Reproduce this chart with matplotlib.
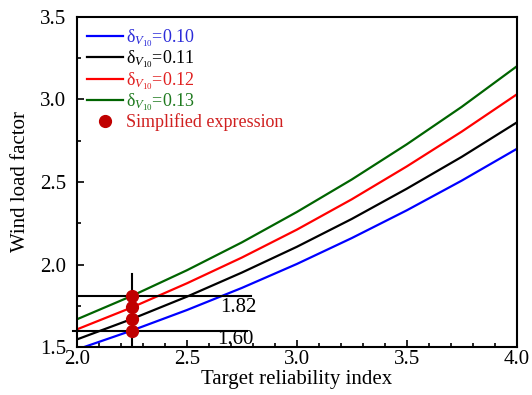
import matplotlib
matplotlib.use("Agg")
import matplotlib.pyplot as plt

plt.rcParams['font.family'] = ['Liberation Serif', 'DejaVu Serif']
plt.rcParams['mathtext.fontset'] = 'custom'
plt.rcParams['mathtext.rm'] = 'Liberation Serif'
plt.rcParams['mathtext.it'] = 'Liberation Serif:italic'

beta = [2.0, 2.25, 2.5, 2.75, 3.0, 3.25, 3.5, 3.75, 4.0]
f010 = [1.485, 1.60, 1.724, 1.858, 2.003, 2.160, 2.328, 2.508, 2.70]
f011 = [1.546, 1.67, 1.805, 1.951, 2.107, 2.276, 2.459, 2.652, 2.86]
f012 = [1.607, 1.74, 1.886, 2.042, 2.211, 2.395, 2.594, 2.805, 3.03]
f013 = [1.668, 1.81, 1.965, 2.134, 2.318, 2.515, 2.728, 2.955, 3.20]
labels = ['0.10', '0.11', '0.12', '0.13']
line_colors = ['#0000ff', '#000000', '#ff0000', '#006400']
text_colors = ['#2b2bd9', '#000000', '#e02020', '#1f7a1f']

simp_x = [2.25, 2.25, 2.25, 2.25]
simp_y = [1.60, 1.67, 1.74, 1.81]

fig = plt.figure(figsize=(5.32, 3.95), dpi=100)
ax = fig.add_axes([0.1447, 0.1215, 0.8263, 0.8355])

for f, lab, c in zip([f010, f011, f012, f013], labels, line_colors):
    ax.plot(beta, f, color=c, lw=1.6, label=r'δ$_{\mathit{V}_{\mathrm{10}}}$=' + lab)

# construction lines
ax.plot([2.0, 2.79], [1.81, 1.81], color='black', lw=1.5, zorder=3)
ax.plot([1.98, 2.775], [1.60, 1.60], color='black', lw=1.5, zorder=3, clip_on=False)
ax.plot([2.25, 2.25], [1.5, 1.94], color='black', lw=1.5, zorder=3)

ax.plot(simp_x, simp_y, 'o', color='#c00000', ms=8.5, zorder=4, label='Simplified expression')

ax.text(2.735, 1.742, '1.82', fontsize=15, ha='center', va='center')
ax.text(2.722, 1.548, '1.60', fontsize=15, ha='center', va='center')

ax.set_xlim(2.0, 4.0)
ax.set_ylim(1.5, 3.5)
ax.set_xticks([2.0, 2.5, 3.0, 3.5, 4.0])
ax.set_yticks([1.5, 2.0, 2.5, 3.0, 3.5])
ax.set_xticks([2.0 + 0.1 * i for i in range(21)], minor=True)
ax.set_yticks([1.5 + 0.25 * i for i in range(9)], minor=True)
ax.tick_params(which='both', direction='in', width=1.2, labelsize=15)
ax.tick_params(which='major', length=5)
ax.tick_params(which='minor', length=3)
ax.tick_params(axis='x', pad=2)
ax.tick_params(axis='y', pad=8)
for s in ax.spines.values():
    s.set_linewidth(1.5)

ax.set_xlabel('Target reliability index', fontsize=15, labelpad=1)
ax.set_ylabel('Wind load factor', fontsize=15, labelpad=7)

leg = ax.legend(loc='upper left', bbox_to_anchor=(0.0, 1.0), frameon=False,
                fontsize=13, handlelength=2.0, handletextpad=0.15,
                labelspacing=0.0, borderaxespad=0.2, borderpad=0.35)
tc = text_colors + ['#d02020']
for t, c in zip(leg.get_texts(), tc):
    t.set_color(c)

fig.savefig('out.png', dpi=100)
